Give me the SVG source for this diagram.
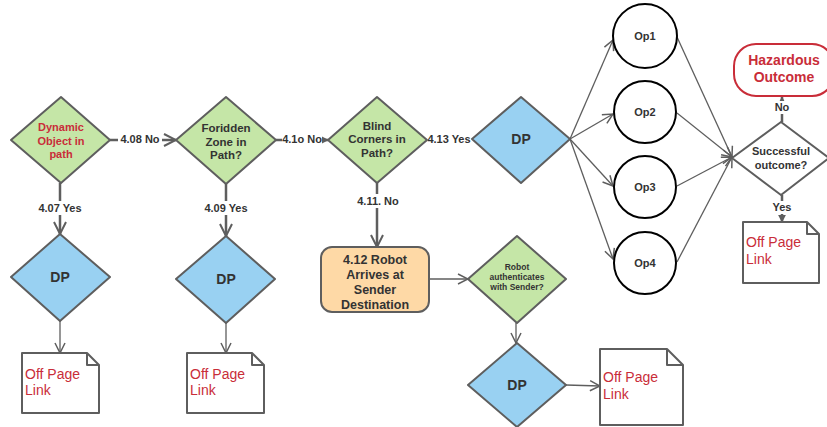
<svg xmlns="http://www.w3.org/2000/svg" width="827" height="427" viewBox="0 0 827 427">
<defs>
<style>
.green{fill:#c5e6a7;stroke:#5e5e5e;stroke-width:2;stroke-linejoin:round}
.blue{fill:#99d1f2;stroke:#5e5e5e;stroke-width:2;stroke-linejoin:round}
.white{fill:#fff;stroke:#5e5e5e;stroke-width:2;stroke-linejoin:round}
.circ{fill:#fff;stroke:#000;stroke-width:2}
.t{font-family:"Liberation Sans",Arial,sans-serif;font-weight:bold;fill:#333;text-anchor:middle}
.red{fill:#c92d39}
.link{font-family:"Liberation Sans",Arial,sans-serif;font-size:14px;fill:#c92d39}
.lbl{font-family:"Liberation Sans",Arial,sans-serif;font-weight:bold;font-size:11px;fill:#333;text-anchor:middle}
.thick{fill:none;stroke:#5e5e5e;stroke-width:2.5}
.thin{fill:none;stroke:#5e5e5e;stroke-width:1.3}
</style>
<marker id="ch" viewBox="0 0 12 12" refX="11" refY="6" markerWidth="12" markerHeight="12" markerUnits="userSpaceOnUse" orient="auto">
<path d="M1,1 L11,6 L1,11" fill="none" stroke="#5e5e5e" stroke-width="1.5"/>
</marker>
<marker id="chb" viewBox="0 0 14 14" refX="13" refY="7" markerWidth="14" markerHeight="14" markerUnits="userSpaceOnUse" orient="auto">
<path d="M1,1 L13,7 L1,13" fill="none" stroke="#5e5e5e" stroke-width="2"/>
</marker>
<marker id="fl" viewBox="0 0 10 10" refX="9" refY="5" markerWidth="8" markerHeight="8" markerUnits="userSpaceOnUse" orient="auto">
<path d="M0,0 L10,5 L0,10 Z" fill="#5e5e5e"/>
</marker>
</defs>
<rect width="827" height="427" fill="#fff"/>

<g id="connectors">
<line class="thick" x1="110" y1="140" x2="176" y2="140" marker-end="url(#chb)"/>
<line class="thick" x1="276" y1="140" x2="328" y2="140" marker-end="url(#fl)"/>
<line class="thin" x1="427" y1="140" x2="472" y2="140"/>
<line class="thick" x1="60" y1="183" x2="60" y2="234" marker-end="url(#chb)"/>
<line class="thick" x1="226" y1="184" x2="226" y2="236" marker-end="url(#chb)"/>
<line class="thick" x1="377" y1="183" x2="377" y2="247" marker-end="url(#chb)"/>
<line class="thin" x1="60" y1="321" x2="60" y2="353" marker-end="url(#ch)"/>
<line class="thin" x1="226" y1="323" x2="226" y2="353" marker-end="url(#ch)"/>
<line class="thin" x1="429" y1="279" x2="468" y2="279" marker-end="url(#ch)"/>
<line class="thin" x1="516" y1="323" x2="516" y2="343" marker-end="url(#ch)"/>
<line class="thin" x1="566" y1="385" x2="600" y2="386" marker-end="url(#ch)"/>
<line class="thin" x1="570" y1="139" x2="613" y2="40" marker-end="url(#ch)"/>
<line class="thin" x1="570" y1="139" x2="613" y2="114" marker-end="url(#ch)"/>
<line class="thin" x1="570" y1="139" x2="613" y2="186" marker-end="url(#ch)"/>
<line class="thin" x1="570" y1="139" x2="613" y2="259" marker-end="url(#ch)"/>
<line class="thin" x1="677" y1="37" x2="732" y2="157" marker-end="url(#ch)"/>
<line class="thin" x1="677" y1="113" x2="732" y2="157" marker-end="url(#ch)"/>
<line class="thin" x1="677" y1="186" x2="732" y2="157" marker-end="url(#ch)"/>
<line class="thin" x1="677" y1="262" x2="732" y2="157" marker-end="url(#ch)"/>
<line class="thick" x1="782" y1="122" x2="782" y2="97" marker-end="url(#fl)"/>
<line class="thick" x1="782" y1="195" x2="782" y2="222" marker-end="url(#fl)"/>
<rect x="118" y="132" width="44" height="14" fill="#fff"/>
<text class="lbl" x="140" y="143">4.08 No</text>
<rect x="282" y="132" width="40" height="14" fill="#fff"/>
<text class="lbl" x="302" y="143">4.1o No</text>
<rect x="426" y="132" width="46" height="14" fill="#fff"/>
<text class="lbl" x="449" y="143">4.13 Yes</text>
<rect x="36" y="201" width="48" height="14" fill="#fff"/>
<text class="lbl" x="60" y="212">4.07 Yes</text>
<rect x="202" y="201" width="48" height="14" fill="#fff"/>
<text class="lbl" x="226" y="212">4.09 Yes</text>
<rect x="355" y="194" width="46" height="14" fill="#fff"/>
<text class="lbl" x="378" y="205">4.11. No</text>
<rect x="772" y="101" width="20" height="13" fill="#fff"/>
<text class="lbl" x="782" y="111">No</text>
<rect x="769" y="201" width="26" height="13" fill="#fff"/>
<text class="lbl" x="782" y="211">Yes</text>
</g>

<g id="n-dynamic">
<polygon class="green" points="61,97 110,140 61,183 11,140"/>
<text class="t red" font-size="11" x="61" y="131">Dynamic</text>
<text class="t red" font-size="11" x="61" y="145">Object in</text>
<text class="t red" font-size="11" x="61" y="158">path</text>
</g>
<g id="n-forbidden">
<polygon class="green" points="226,97 276,140 226,184 176,140"/>
<text class="t" font-size="11.5" x="226" y="132">Foridden</text>
<text class="t" font-size="11.5" x="226" y="146">Zone in</text>
<text class="t" font-size="11.5" x="226" y="159">Path?</text>
</g>
<g id="n-blind">
<polygon class="green" points="377,97 427,140 377,183 328,140"/>
<text class="t" font-size="11.5" x="377" y="130">Blind</text>
<text class="t" font-size="11.5" x="377" y="143">Corners in</text>
<text class="t" font-size="11.5" x="377" y="157">Path?</text>
</g>
<g id="n-dp-top">
<polygon class="blue" points="521,97 570,139 521,183 472,139"/>
<text class="t" font-size="14" x="521" y="144">DP</text>
</g>
<g id="n-dp1">
<polygon class="blue" points="60,234 110,277 60,321 11,277"/>
<text class="t" font-size="14" x="60" y="282">DP</text>
</g>
<g id="n-dp2">
<polygon class="blue" points="226,236 275,279 226,323 176,279"/>
<text class="t" font-size="14" x="226" y="284">DP</text>
</g>
<g id="n-link1">
<path class="white" d="M22,353 H87 L99,365 V413 H22 Z M87,353 V365 H99"/>
<text class="link" x="25" y="379">Off Page</text>
<text class="link" x="25" y="395">Link</text>
</g>
<g id="n-link2">
<path class="white" d="M187,353 H252 L264,365 V413 H187 Z M252,353 V365 H264"/>
<text class="link" x="190" y="379">Off Page</text>
<text class="link" x="190" y="395">Link</text>
</g>
<g id="n-robot">
<rect x="321" y="247" width="108" height="65" rx="11" fill="#fed9a6" stroke="#5e5e5e" stroke-width="2"/>
<text class="t" font-size="12.5" x="375" y="264">4.12 Robot</text>
<text class="t" font-size="12.5" x="375" y="279">Arrives at</text>
<text class="t" font-size="12.5" x="375" y="294">Sender</text>
<text class="t" font-size="12.5" x="375" y="309">Destination</text>
</g>
<g id="n-auth">
<polygon class="green" points="517,236 566,279 517,323 468,279"/>
<text class="t" font-size="8.5" x="517" y="270">Robot</text>
<text class="t" font-size="8.5" x="517" y="280">authenticates</text>
<text class="t" font-size="8.5" x="517" y="290">with Sender?</text>
</g>
<g id="n-dp3">
<polygon class="blue" points="517,343 566,385 517,427 468,385"/>
<text class="t" font-size="14" x="517" y="390">DP</text>
</g>
<g id="n-link3">
<path class="white" d="M600,349 H667 L683,365 V425 H600 Z M667,349 V365 H683"/>
<text class="link" x="603" y="382">Off Page</text>
<text class="link" x="603" y="399">Link</text>
</g>
<g id="n-op1">
<circle class="circ" cx="645" cy="36" r="32"/>
<text class="t" font-size="11" x="645" y="40">Op1</text>
</g>
<g id="n-op2">
<circle class="circ" cx="645" cy="112" r="31"/>
<text class="t" font-size="11" x="645" y="116">Op2</text>
</g>
<g id="n-op3">
<circle class="circ" cx="645" cy="187" r="31"/>
<text class="t" font-size="11" x="645" y="191">Op3</text>
</g>
<g id="n-op4">
<circle class="circ" cx="645" cy="263" r="31"/>
<text class="t" font-size="11" x="645" y="267">Op4</text>
</g>
<g id="n-success">
<polygon class="white" points="781,122 829,158 781,195 732,158"/>
<text class="t" font-size="11" x="781" y="155">Successful</text>
<text class="t" font-size="11" x="781" y="169">outcome?</text>
</g>
<g id="n-hazard">
<rect x="734" y="44" width="100" height="52" rx="22" fill="#fff" stroke="#c92d39" stroke-width="2"/>
<text class="t red" font-size="14" x="784" y="65">Hazardous</text>
<text class="t red" font-size="14" x="784" y="82">Outcome</text>
</g>
<g id="n-link4">
<path class="white" d="M743,222 H807 L819,234 V283 H743 Z M807,222 V234 H819"/>
<text class="link" x="746" y="247">Off Page</text>
<text class="link" x="746" y="264">Link</text>
</g>
</svg>
